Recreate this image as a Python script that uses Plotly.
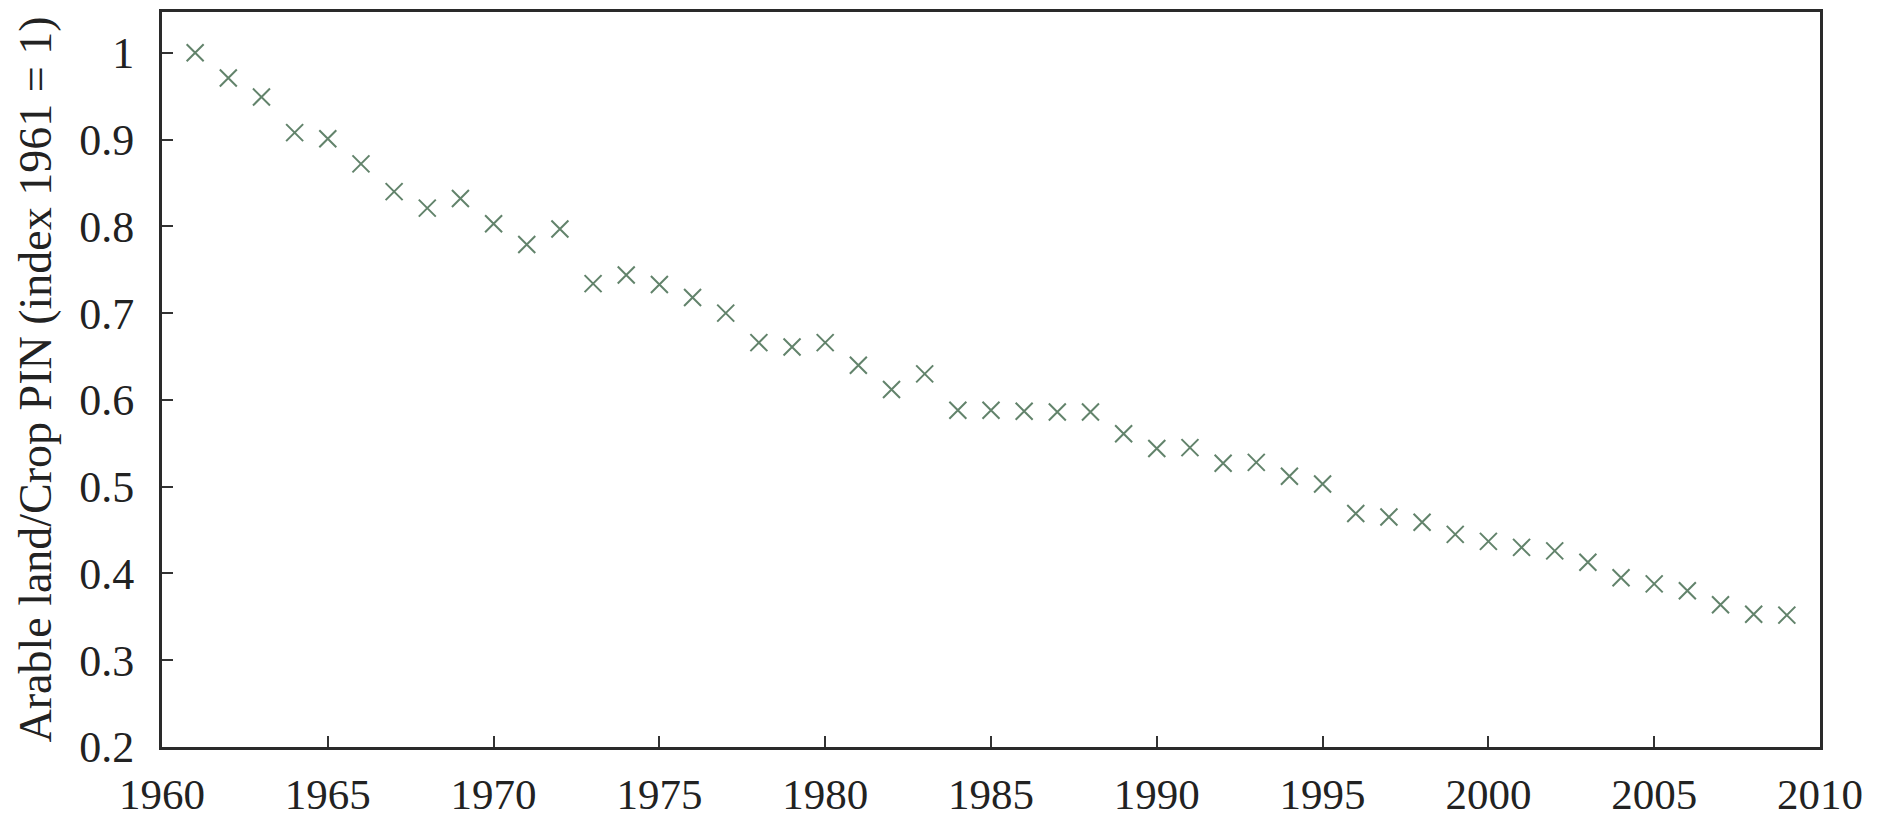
import plotly.graph_objects as go

years = list(range(1961, 2010))
ratio = [1.000, 0.971, 0.949, 0.908, 0.901, 0.872, 0.840, 0.821, 0.832, 0.803,
         0.779, 0.797, 0.734, 0.744, 0.733, 0.718, 0.700, 0.666, 0.661, 0.666,
         0.640, 0.612, 0.630, 0.588, 0.588, 0.587, 0.586, 0.586, 0.561, 0.544,
         0.545, 0.527, 0.528, 0.512, 0.503, 0.469, 0.465, 0.459, 0.445, 0.437,
         0.430, 0.426, 0.413, 0.395, 0.388, 0.380, 0.364, 0.353, 0.352]

x_ticks = [1960, 1965, 1970, 1975, 1980, 1985, 1990, 1995, 2000, 2005, 2010]
y_ticks = [0.2, 0.3, 0.4, 0.5, 0.6, 0.7, 0.8, 0.9, 1.0]
y_ticktext = ["0.2", "0.3", "0.4", "0.5", "0.6", "0.7", "0.8", "0.9", "1"]
y_title = "Arable land/Crop PIN (index 1961 = 1)"

FONT = "Liberation Serif, DejaVu Serif, serif"

fig = go.Figure()
fig.add_trace(go.Scatter(
    x=years, y=ratio, mode="markers",
    marker=dict(symbol="x-thin-open", size=17, color="#62836b",
                line=dict(width=2, color="#62836b")),
    showlegend=False, hoverinfo="x+y",
))

axis_common = dict(
    showline=True, linecolor="#2a2a2a", linewidth=3, mirror=True,
    showgrid=False, zeroline=False, automargin=False,
    ticks="inside", ticklen=11, tickwidth=2, tickcolor="#333333",
)

fig.update_xaxes(range=[1960, 2010], tickvals=x_ticks, ticklabelstandoff=7,
                 tickfont=dict(family=FONT, size=43, color="#222222"),
                 **axis_common)
fig.update_yaxes(range=[0.2, 1.047], tickvals=y_ticks, ticktext=y_ticktext,
                 ticklabelstandoff=16,
                 tickfont=dict(family=FONT, size=44, color="#222222"),
                 title=dict(text=y_title, font=dict(family=FONT, size=46, color="#222222"),
                            standoff=14),
                 **axis_common)

fig.update_layout(
    width=1889, height=822,
    margin=dict(l=162, r=69, t=12, b=75),
    paper_bgcolor="white", plot_bgcolor="white",
)

fig.write_html("out.html", config={"displayModeBar": False},
               post_script="document.body.style.margin='0';document.body.style.overflow='hidden';")
